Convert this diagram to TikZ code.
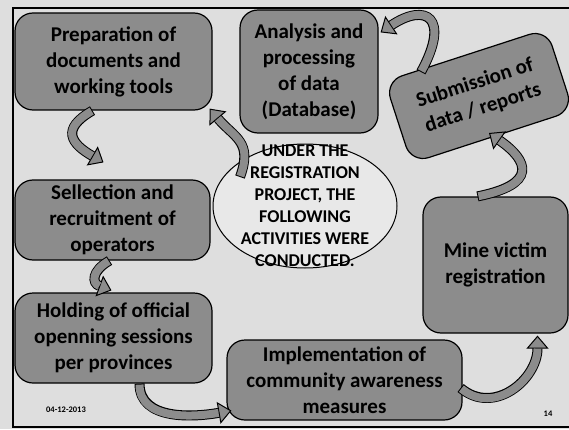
\documentclass[tikz,border=0pt]{standalone}
\usepackage{fontspec}
\setmainfont{Carlito}
\usepackage{tikz}
\usetikzlibrary{arrows.meta,shapes.geometric}
\definecolor{paper}{gray}{0.87}
\definecolor{boxgray}{gray}{0.55}
\definecolor{ovalgray}{gray}{0.91}

\begin{document}
\begin{tikzpicture}[x=1pt,y=1pt,
  act/.style={draw,line width=1.2pt,rounded corners=18pt,fill=boxgray,align=center,
    inner sep=0pt,font=\fontsize{21}{26}\selectfont\bfseries},
  oval/.style={draw,ellipse,line width=1pt,fill=ovalgray,inner sep=0pt},
  ovaltext/.style={align=center,font=\fontsize{18}{22}\selectfont\bfseries},
  note/.style={font=\fontsize{8.5}{10}\selectfont\bfseries},
  band/.style={draw=black,line width=10pt,
    -{Triangle[length=13pt,width=22pt,fill=boxgray,line width=1pt]},
    postaction={draw=boxgray,line width=8pt,-,shorten >=13pt,shorten <=1pt}}]
\useasboundingbox (0,0) rectangle (569,429);
\fill[paper] (0,0) rectangle (569,429);
\draw[line width=1.5pt] (575,421) -- (13,421) -- (13,2) -- (575,2);
\node[act,minimum width=197pt,minimum height=97pt] (prep) at (113.5,367.5) {Preparation of\\documents and\\working tools};
\node[act,minimum width=138pt,minimum height=123pt] (ana) at (309,357.5) {Analysis and\\processing\\of data\\(Database)};
\node[act,rotate=18,minimum width=170pt,minimum height=86pt] (sub) at (479,333) {Submission of\\data / reports};
\node[oval,minimum width=184pt,minimum height=124pt] (oval) at (305,223) {};
\node[ovaltext] (ovaltxt) at (oval.center) {UNDER THE\\REGISTRATION\\PROJECT, THE\\FOLLOWING\\ACTIVITIES WERE\\CONDUCTED.};
\node[act,minimum width=195pt,minimum height=80pt] (sel) at (112.5,209) {Sellection and\\recruitment of\\operators};
\node[act,minimum width=197pt,minimum height=90pt] (hold) at (113.5,91) {Holding of official\\openning sessions\\per provinces};
\node[act,minimum width=235pt,minimum height=80pt] (impl) at (344.5,49) {Implementation of\\community awareness\\measures};
\node[act,minimum width=145pt,minimum height=136pt] (mine) at (495.5,164) {Mine victim\\registration};
\node[note] (date) at (66,19) {04-12-2013};
\node[note] (page) at (548,15) {14};
\draw[band] ([xshift=-21pt]prep.south) to[out=-150,in=150,looseness=1.8] ([xshift=-9pt,yshift=17pt]sel.north);
\draw[band] ([xshift=-65pt,yshift=29pt]oval.center) to[out=70,in=-50,looseness=1.3] ([xshift=-3pt,yshift=2pt]prep.south east);
\draw[band] ([xshift=-3pt]sel.south) to[out=-150,in=160,looseness=1.8] ([xshift=-2pt,yshift=2pt]hold.north);
\draw[band] ([xshift=26pt]hold.south) to[out=-90,in=190] ([xshift=5pt,yshift=10pt]impl.south west);
\draw[band] ([xshift=-2pt,yshift=-8pt]impl.east) to[out=-40,in=-90,looseness=1.2] ([xshift=42pt,yshift=-2pt]mine.south);
\draw[band] ([xshift=-18pt]mine.north) .. controls +(60,12) and +(40,-28) .. ([xshift=10pt,yshift=-37pt]sub.center);
\draw[band] ([xshift=-58pt,yshift=24pt]sub.center) .. controls +(30,55) and +(45,30) .. ([xshift=2pt,yshift=-23pt]ana.north east);
\end{tikzpicture}
\end{document}
